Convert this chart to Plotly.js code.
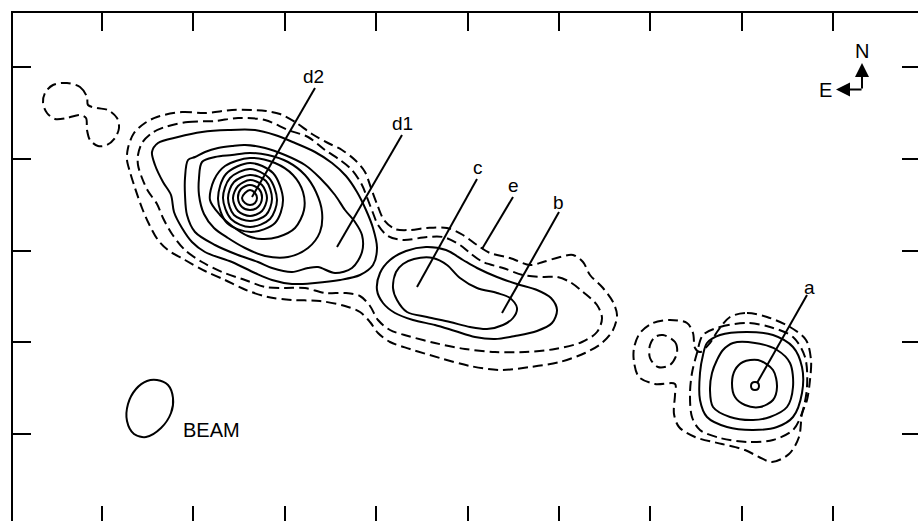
<!DOCTYPE html>
<html><head><meta charset="utf-8">
<script src="https://cdn.plot.ly/plotly-3.0.1.min.js"></script>
<style>html,body{margin:0;padding:0;overflow:hidden;background:#fff}#chart{width:920px;height:524px}</style>
</head><body><div id="chart"></div>
<script>
// Map coordinates (arbitrary sky-offset units, y grows southward)
const xTicks = [102,193.4,284.8,376.1,467.5,558.9,650.3,741.6,833];
const yTicks = [67,158.75,250.5,342.25,434];

// ---- dashed (low) contour levels ----
const blobNE_L1 = [[67,83],[80,87],[87,97],[88,105],[97,108],[108,110],[117,118],[119,128],[115,138],[107,145],[98,146],[90,140],[87,130],[86,118],[80,115],[67,118],[55,119],[47,113],[43,103],[45,93],[53,85],[67,83]];

const main_L1 = [[157,117],[182,112],[205,113],[232,110],[252,110],[266,111],[280,114],[295,122],[312,134],[328,143],[342,150],[355,160],[365,172],[371,188],[377,204],[384,220],[395,229],[410,230],[427,228],[447,228],[463,235],[477,245],[490,253],[510,258],[530,265],[543,262],[560,257],[573,255],[583,262],[590,275],[603,288],[613,302],[617,315],[613,330],[602,343],[585,353],[560,362],[530,367],[500,370],[470,366],[440,358],[410,349],[390,342],[378,333],[370,322],[360,312],[345,306],[320,301],[292,300],[268,297],[246,290],[225,280],[205,271],[185,260],[168,250],[158,240],[149,224],[142,208],[135,188],[130,172],[127,160],[128,148],[134,133],[145,123],[157,117]];

const main_L2 = [[165,127],[188,122],[215,121],[238,118],[265,120],[288,130],[308,137],[325,150],[340,160],[352,170],[362,185],[368,200],[373,213],[378,225],[388,236],[403,240],[427,237],[443,237],[460,245],[470,253],[483,262],[503,268],[523,275],[543,277],[557,277],[570,282],[583,292],[597,305],[602,318],[597,332],[582,342],[555,349],[525,352],[495,352],[465,349],[435,343],[408,336],[390,330],[378,320],[370,306],[360,296],[345,293],[325,293],[305,288],[285,288],[265,287],[245,280],[222,272],[202,262],[185,250],[172,234],[163,218],[157,204],[148,191],[142,178],[138,165],[138,155],[142,143],[152,133],[165,127]];

const compA_L1 = [[730,317],[747,313],[767,317],[790,327],[806,340],[811,360],[810,380],[807,400],[802,414],[799,437],[789,454],[772,462],[759,457],[745,450],[722,444],[695,437],[679,427],[674,414],[675,395],[675,384],[655,384],[639,377],[634,362],[634,348],[640,333],[653,323],[670,320],[687,323],[693,333],[695,348],[700,352],[710,343],[717,332],[730,317]];
const compA_L2 = [[703,335],[720,327],[747,323],[770,327],[793,337],[805,357],[807,387],[802,413],[793,430],[773,440],[747,442],[720,438],[700,430],[692,417],[690,393],[692,373],[697,353],[703,335]];
const spotW_L2 = [[663,335],[675,342],[677,353],[670,365],[658,367],[650,358],[650,345],[655,337],[663,335]];

// ---- solid (higher) contour levels ----
const main_L3 = [[158,143],[178,137],[202,132],[228,130],[255,130],[275,135],[295,143],[315,152],[332,163],[346,176],[357,192],[366,210],[373,228],[377,248],[373,265],[360,275],[340,280],[315,283],[292,284],[272,280],[255,273],[232,262],[205,252],[192,242],[182,228],[174,212],[171,195],[163,182],[155,165],[152,152],[158,143]];
const main_L4 = [[188,160],[195,157],[205,152],[218,148],[232,146],[245,145],[265,148],[285,155],[305,165],[320,178],[335,195],[345,210],[355,222],[362,235],[362,252],[352,268],[335,273],[318,267],[308,268],[292,272],[272,268],[258,262],[238,255],[215,245],[195,232],[187,215],[185,195],[185,178],[188,160]];
const d2_L5 = [[202,162],[215,157],[232,155],[250,153],[268,155],[288,162],[305,175],[316,192],[322,212],[320,232],[308,248],[288,257],[265,256],[245,248],[228,238],[214,228],[204,214],[199,195],[199,178],[202,162]];
const d2_L6 = [[210,200],[214,180],[225,166],[250,158],[275,163],[293,175],[303,192],[304,210],[295,228],[278,237],[262,239],[248,236],[232,226],[220,215],[210,200]];
const d2_L7 = [[283,200],[275,223],[251,232],[227,223],[218,199],[226,174],[250,163],[273,173],[283,200]];
const d2_L8 = [[277,200],[270,219],[250,227],[231,219],[223,198],[230,178],[250,169],[269,178],[277,200]];
const d2_L9 = [[272,199],[266,215],[250,221],[234,215],[228,198],[234,182],[250,175],[266,181],[272,199]];
const d2_L10 = [[267,198],[262,211],[250,216],[238,211],[233,198],[238,186],[250,180],[262,185],[267,198]];
const d2_L11 = [[262,198],[258,207],[250,210],[242,207],[238,198],[241,189],[250,185],[259,189],[262,198]];
const d2_L12 = [[257,198],[255,203],[250,205],[245,203],[242,198],[245,193],[250,190],[255,193],[257,198]];

const mid_L3 = [[377,290],[380,273],[390,260],[406,251],[426,247],[446,250],[463,260],[477,268],[497,277],[517,284],[537,290],[551,298],[557,310],[552,323],[537,331],[515,336],[495,339],[475,337],[455,331],[435,325],[413,320],[395,313],[383,303],[377,290]];
const mid_L4 = [[393,288],[396,272],[403,264],[414,259],[433,258],[447,265],[460,278],[477,288],[497,293],[510,298],[517,308],[513,318],[503,325],[487,329],[470,327],[450,322],[427,317],[407,312],[397,300],[393,288]];

const compA_L3 = [[707,343],[720,335],[747,332],[773,335],[793,347],[802,367],[802,393],[793,417],[777,427],[753,430],[727,427],[707,417],[700,400],[700,373],[703,355],[707,343]];
const compA_L4 = [[717,360],[723,350],[733,343],[755,343],[777,350],[790,363],[793,387],[787,407],[770,417],[753,420],[730,417],[713,407],[710,390],[712,373],[717,360]];
const compA_L5 = [[735,370],[743,362],[758,360],[773,370],[777,387],[773,400],[760,407],[745,405],[735,397],[732,383],[735,370]];
const compA_L6 = [[759,386],[758,389],[755,390],[752,389],[751,386],[752,383],[755,382],[758,383],[759,386]];

const beam = [[157,380],[168,385],[173,398],[171,413],[161,428],[146,437],[134,434],[127,421],[128,404],[136,389],[147,381],[157,380]];

// component labels and pointer lines
const labelText = ['d2','d1','c','e','b','a'];
const labelX = [313,402,478,513,558,809];
const labelY = [76,123,167,185,202,287];
const pointerFrom = [[315,88],[402,135],[477,179],[513,197],[559,212],[807,295]];
const pointerTo = [[252,197],[337,247],[417,287],[482,249],[502,313],[757,383]];

const dashed = [blobNE_L1, main_L1, main_L2, compA_L1, compA_L2, spotW_L2];
const solid = [main_L3, main_L4, d2_L5, d2_L6, d2_L7, d2_L8, d2_L9, d2_L10, d2_L11, d2_L12, mid_L3, mid_L4, compA_L3, compA_L4, compA_L5, compA_L6, beam];

function tr(pts, dash){
  return {type:'scatter', mode:'lines', x:pts.map(p=>p[0]), y:pts.map(p=>p[1]),
    line:{color:'#000', width:2, dash:dash, shape:'spline', smoothing:0.9},
    hoverinfo:'skip', showlegend:false};
}
const traces = [];
dashed.forEach(c=>traces.push(tr(c,'10px,5px')));
solid.forEach(c=>traces.push(tr(c,'solid')));
pointerFrom.forEach((p,i)=>{
  traces.push({type:'scatter', mode:'lines', x:[p[0],pointerTo[i][0]], y:[p[1],pointerTo[i][1]],
    line:{color:'#000', width:2}, hoverinfo:'skip', showlegend:false});
});

const font = {family:'Liberation Sans, Arial, Helvetica, sans-serif', color:'#000'};
const annotations = labelText.map((t,i)=>({x:labelX[i], y:labelY[i], xref:'x', yref:'y', text:t, showarrow:false, font:Object.assign({size:19},font)}));
annotations.push({x:211, y:430, xref:'x', yref:'y', text:'BEAM', showarrow:false, font:Object.assign({size:20},font)});
annotations.push({x:862, y:51, xref:'x', yref:'y', text:'N', showarrow:false, font:Object.assign({size:20},font)});
annotations.push({x:825, y:90, xref:'x', yref:'y', text:'E', showarrow:false, font:Object.assign({size:20},font)});
annotations.push({x:862, y:63, ax:862, ay:90, xref:'x', yref:'y', axref:'x', ayref:'y', text:'', showarrow:true, arrowhead:2, arrowsize:1.4, arrowwidth:2, arrowcolor:'#000'});
annotations.push({x:836, y:89.5, ax:863, ay:89.5, xref:'x', yref:'y', axref:'x', ayref:'y', text:'', showarrow:true, arrowhead:2, arrowsize:1.4, arrowwidth:2, arrowcolor:'#000'});

const axisCommon = {showline:true, linewidth:2, linecolor:'#000', mirror:'ticks', ticks:'inside', ticklen:18, tickwidth:2, tickcolor:'#000', showticklabels:false, showgrid:false, zeroline:false, fixedrange:true};
const layout = {
  width:920, height:524, margin:{l:13, r:0, t:13, b:0},
  paper_bgcolor:'#fff', plot_bgcolor:'#fff',
  xaxis:Object.assign({range:[13,920], tickvals:xTicks}, axisCommon),
  yaxis:Object.assign({range:[524,13], tickvals:yTicks}, axisCommon),
  annotations:annotations, showlegend:false
};
Plotly.newPlot('chart', traces, layout, {staticPlot:true, displayModeBar:false});
</script></body></html>
